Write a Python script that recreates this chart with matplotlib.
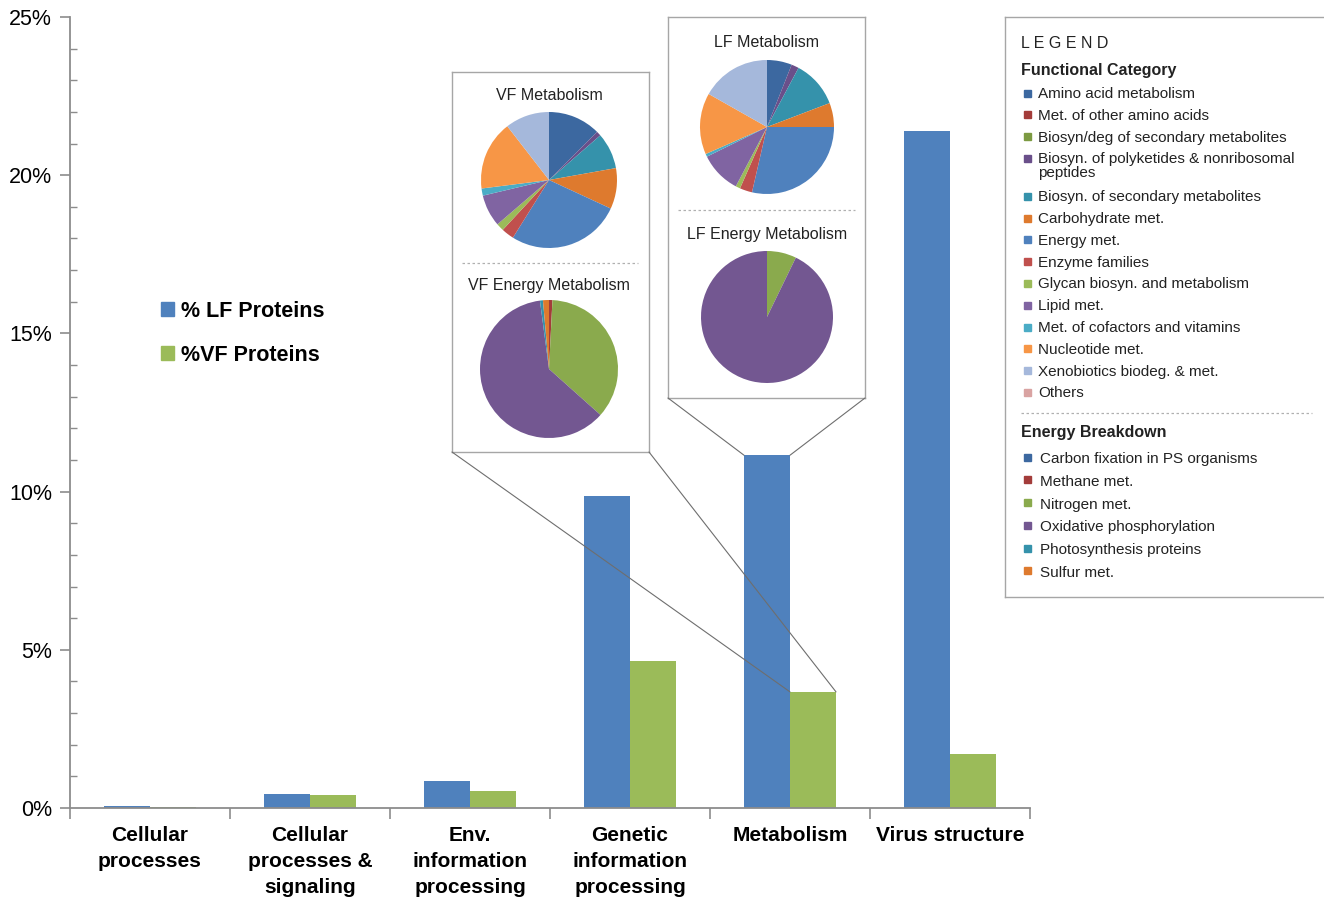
import matplotlib.pyplot as plt
from matplotlib.patches import Patch, ConnectionPatch, Rectangle

plt.rcParams['font.family'] = ['Liberation Sans', 'DejaVu Sans']

# --- bar data (% of proteins per functional group) ---
categories = ['Cellular\nprocesses', 'Cellular\nprocesses &\nsignaling', 'Env.\ninformation\nprocessing',
              'Genetic\ninformation\nprocessing', 'Metabolism', 'Virus structure']
lf_pct = [0.05, 0.44, 0.85, 9.85, 11.15, 21.4]
vf_pct = [0.03, 0.41, 0.54, 4.65, 3.67, 1.71]

# --- metabolism breakdown (pies) ---
func_labels = ['Amino acid metabolism', 'Met. of other amino acids', 'Biosyn/deg of secondary metabolites',
               'Biosyn. of polyketides & nonribosomal\npeptides', 'Biosyn. of secondary metabolites',
               'Carbohydrate met.', 'Energy met.', 'Enzyme families', 'Glycan biosyn. and metabolism',
               'Lipid met.', 'Met. of cofactors and vitamins', 'Nucleotide met.',
               'Xenobiotics biodeg. & met.', 'Others']
func_colors = ['#3C68A0', '#A33C3A', '#7C9A42', '#6A4F8A', '#3592AB', '#DE7A2E', '#4F81BD',
               '#C0504D', '#9BBB59', '#8064A2', '#4BACC6', '#F79646', '#A5B8DB', '#D9A3A2']
vf_metab = [12.5, 0, 0, 1.1, 8.6, 9.7, 27.0, 3.0, 1.8, 7.6, 1.7, 16.5, 10.5, 0]
lf_metab = [6.0, 0, 0, 1.8, 11.4, 5.8, 28.6, 3.0, 1.1, 10.0, 0.7, 14.8, 16.8, 0]

energy_labels = ['Carbon fixation in PS organisms', 'Methane met.', 'Nitrogen met.',
                 'Oxidative phosphorylation', 'Photosynthesis proteins', 'Sulfur met.']
energy_colors = ['#3C68A0', '#A33C3A', '#8AAA4D', '#735791', '#3592AB', '#DE7A2E']
vf_energy = [0, 0.8, 35.8, 61.3, 0.7, 1.4]
lf_energy = [0, 0, 7.2, 92.8, 0, 0]

LF_BLUE = '#4F81BD'
VF_GREEN = '#9BBB59'
AXIS_GRAY = '#8C8C8C'

W, H = 1324, 900
fig = plt.figure(figsize=(W / 100, H / 100), dpi=100)


def px_axes(x0, y0, x1, y1, **kw):
    return fig.add_axes([x0 / W, 1 - y1 / H, (x1 - x0) / W, (y1 - y0) / H], **kw)


# --- main bar chart ---
ax = px_axes(70, 17, 1030, 808)
w = 0.2875
xs = range(len(categories))
ax.bar([i - w / 2 for i in xs], lf_pct, width=w, color=LF_BLUE, label='% LF Proteins')
ax.bar([i + w / 2 for i in xs], vf_pct, width=w, color=VF_GREEN, label='%VF Proteins')
ax.set_xlim(-0.5, len(categories) - 0.5)
ax.set_ylim(0, 25)

for s in ['top', 'right']:
    ax.spines[s].set_visible(False)
for s in ['left', 'bottom']:
    ax.spines[s].set_color(AXIS_GRAY)
    ax.spines[s].set_linewidth(1.3)

ax.set_yticks(range(0, 26, 5))
ax.set_yticklabels([f'{v}%' for v in range(0, 26, 5)], fontsize=15.5)
ax.set_yticks(range(0, 26), minor=True)
ax.tick_params(axis='y', which='major', direction='out', length=7, width=1.2, color=AXIS_GRAY, pad=6)
ax.tick_params(axis='y', which='minor', direction='in', length=5, width=1.0, color=AXIS_GRAY)

ax.set_xticks([i - 0.5 for i in range(len(categories) + 1)])
ax.set_xticklabels([])
ax.set_xticks(list(xs), minor=True)
ax.set_xticklabels(categories, minor=True, fontsize=15, fontweight='bold', linespacing=1.45, va='top')
ax.tick_params(axis='x', which='major', direction='out', length=8, width=1.2, color=AXIS_GRAY)
ax.tick_params(axis='x', which='minor', length=0, pad=13)

fig.legend(handles=[Patch(color=LF_BLUE, label='% LF Proteins'), Patch(color=VF_GREEN, label='%VF Proteins')],
           loc='upper left', bbox_to_anchor=(161 / W, 1 - 301 / H), frameon=False,
           prop={'size': 15.5, 'weight': 'bold'}, handlelength=0.62, handleheight=0.62,
           handletextpad=0.3, labelspacing=1.05, borderpad=0, borderaxespad=0)


# --- inset boxes with pies ---
def inset_box(x0, y0, x1, y1):
    b = px_axes(x0, y0, x1, y1, zorder=3)
    b.set_xlim(x0, x1)
    b.set_ylim(y1, y0)
    b.set_xticks([])
    b.set_yticks([])
    for s in b.spines.values():
        s.set_color('#A6A6A6')
        s.set_linewidth(1.0)
    return b


def pie_at(cx, cy, r, values, colors):
    p = px_axes(cx - r, cy - r, cx + r, cy + r, zorder=4)
    p.pie(values, colors=colors, startangle=90, counterclock=False, radius=1,
          wedgeprops=dict(linewidth=0))
    p.set_xlim(-1, 1)
    p.set_ylim(-1, 1)
    p.set_aspect('equal')
    p.axis('off')


vf_box = inset_box(452, 72, 649, 452)
vf_box.text(549, 95, 'VF Metabolism', ha='center', va='center', fontsize=11.5, color='#222222')
vf_box.plot([462, 638], [263, 263], ls=(0, (2, 2)), color='#B0B0B0', lw=0.9)
vf_box.text(549, 285, 'VF Energy Metabolism', ha='center', va='center', fontsize=11.5, color='#222222')
pie_at(549, 180, 68, vf_metab, func_colors)
pie_at(549, 369, 69, vf_energy, energy_colors)

lf_box = inset_box(668, 17, 865, 398)
lf_box.text(767, 42, 'LF Metabolism', ha='center', va='center', fontsize=11.5, color='#222222')
lf_box.plot([678, 855], [210, 210], ls=(0, (2, 2)), color='#B0B0B0', lw=0.9)
lf_box.text(767, 234, 'LF Energy Metabolism', ha='center', va='center', fontsize=11.5, color='#222222')
pie_at(767, 127, 67, lf_metab, func_colors)
pie_at(767, 317, 66, lf_energy, energy_colors)

# callout lines from the boxes down to the Metabolism bars
m = categories.index('Metabolism')
for box, (xa, xb, top) in [(vf_box, (m, m + w, vf_pct[m])), (lf_box, (m - w, m, lf_pct[m]))]:
    for corner, xbar in [((0, 0), xa), ((1, 0), xb)]:
        cp = ConnectionPatch(xyA=corner, coordsA=box.transAxes, xyB=(xbar, top), coordsB=ax.transData,
                             color='#6E6E6E', lw=0.8, zorder=5)
        fig.add_artist(cp)

# --- category legend box on the right ---
lg = px_axes(1005, 17, 1330, 597, zorder=3)
lg.set_xlim(1005, 1330)
lg.set_ylim(597, 17)
lg.set_xticks([])
lg.set_yticks([])
for s in lg.spines.values():
    s.set_color('#A6A6A6')
    s.set_linewidth(1.0)

lg.text(1021, 43, 'L E G E N D', fontsize=11.5, va='center', color='#222222')
lg.text(1021, 70, 'Functional Category', fontsize=11.5, fontweight='bold', va='center', color='#222222')
y = 93
for lab, col in zip(func_labels, func_colors):
    lg.add_patch(Rectangle((1024, y - 3.5), 7, 7, color=col))
    lg.text(1038, y - 6, lab, fontsize=11, va='top', linespacing=0.95, color='#222222')
    y += 21.8 + 16 * lab.count('\n')
lg.plot([1021, 1312], [413, 413], ls=(0, (2, 2)), color='#B0B0B0', lw=0.9)
lg.text(1021, 433, 'Energy Breakdown', fontsize=11.5, fontweight='bold', va='center', color='#222222')
y = 457
for lab, col in zip(energy_labels, energy_colors):
    lg.add_patch(Rectangle((1024, y - 3.5), 7, 7, color=col))
    lg.text(1040, y + 2, lab, fontsize=11, va='center', color='#222222')
    y += 22.8

fig.savefig('out.png', dpi=100)
